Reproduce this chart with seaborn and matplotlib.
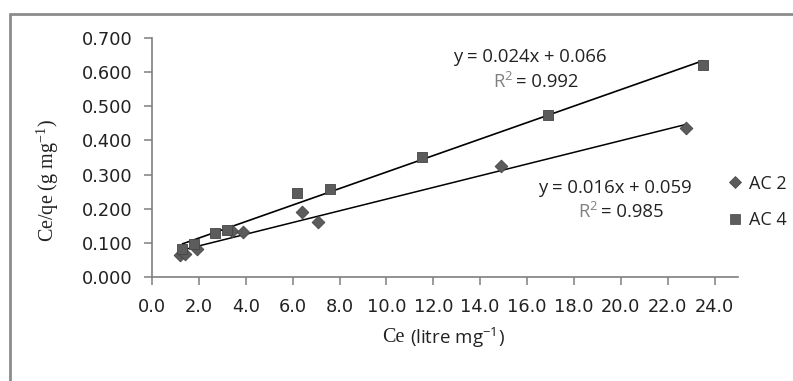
import matplotlib
matplotlib.use("Agg")
import matplotlib.pyplot as plt
import seaborn as sns
import pandas as pd
from matplotlib.lines import Line2D

# ---- data ----
ac2_x = [1.2, 1.4, 1.9, 3.4, 3.9, 6.4, 7.1, 14.9, 22.8]
ac2_y = [0.065, 0.068, 0.081, 0.135, 0.131, 0.189, 0.160, 0.325, 0.436]
ac4_x = [1.3, 1.8, 2.7, 3.2, 6.2, 7.6, 11.5, 16.9, 23.5]
ac4_y = [0.081, 0.096, 0.128, 0.138, 0.247, 0.259, 0.352, 0.475, 0.620]
series_names = ["AC 2", "AC 4"]
eq_texts = ["y = 0.016x + 0.059", "y = 0.024x + 0.066"]
r2_texts = ["= 0.985", "= 0.992"]
x_ticks = [0, 2, 4, 6, 8, 10, 12, 14, 16, 18, 20, 22, 24]
y_ticks = [0.0, 0.1, 0.2, 0.3, 0.4, 0.5, 0.6, 0.7]

sns.set_theme(style="white")
plt.rcParams['font.family'] = ['DejaVu Sans']

W, H = 793, 381
fig = plt.figure(figsize=(W / 100, H / 100), dpi=100)
ax = fig.add_axes([152 / W, 1 - 277 / H, (738 - 152) / W, (277 - 38) / H])

df2 = pd.DataFrame({"x": ac2_x, "y": ac2_y})
df4 = pd.DataFrame({"x": ac4_x, "y": ac4_y})

fill = "#5c5c5c"
edge = "#444444"
sns.regplot(data=df2, x="x", y="y", ax=ax, scatter=False, ci=None, truncate=True,
            line_kws=dict(color="black", lw=1.1))
sns.regplot(data=df4, x="x", y="y", ax=ax, scatter=False, ci=None, truncate=True,
            line_kws=dict(color="black", lw=1.2))
sns.scatterplot(data=df2, x="x", y="y", ax=ax, marker="D", s=42, color=fill,
                edgecolor=edge, linewidth=0.6, zorder=3)
sns.scatterplot(data=df4, x="x", y="y", ax=ax, marker="s", s=46, color=fill,
                edgecolor=edge, linewidth=0.6, zorder=3)

ax.set_xlim(0, 25)
ax.set_ylim(0, 0.7)
ax.set_xticks(x_ticks)
ax.set_xticklabels([f"{v:.1f}" for v in x_ticks])
ax.set_yticks(y_ticks)
ax.set_yticklabels([f"{v:.3f}" for v in y_ticks])
for s in ["top", "right"]:
    ax.spines[s].set_visible(False)
for s in ["left", "bottom"]:
    ax.spines[s].set_color("#7f7f7f")
    ax.spines[s].set_linewidth(1.2)
ax.tick_params(axis="both", direction="out", length=6, width=1.1, color="#7f7f7f",
               labelsize=12.8, labelcolor="#222222")
ax.tick_params(axis="x", pad=9, bottom=True)
ax.tick_params(axis="y", pad=8, left=True)
ax.set_xlabel("")
ax.set_ylabel("")

serif = ['Liberation Serif', 'DejaVu Serif']
sans = ['Open Sans', 'DejaVu Sans']

# axis labels
fig.text(48 / W, 1 - 181 / H, "Ce/qe (g mg$^{\\mathregular{-1}}$)", rotation=90,
         ha="center", va="center", fontsize=14.5, family=serif, color="#222222")
fig.text(405 / W, 1 - 338 / H, "Ce", ha="right", va="center", fontsize=14.5,
         family=serif, color="#222222")
fig.text(410 / W, 1 - 338 / H, "(litre mg$^{\\mathregular{-1}}$)", ha="left", va="center",
         fontsize=13.5, family=sans, color="#222222")

# equations
eq_pos = [(615, 188, 212), (530, 57, 82)]
for (cx, ey, ry), eq, r2 in zip(eq_pos, eq_texts, r2_texts):
    fig.text(cx / W, 1 - ey / H, eq, ha="center", va="center", fontsize=13.3,
             family=sans, color="#222222")
    fig.text((cx - 17) / W, 1 - ry / H, "R$^{\\mathregular{2}}$", ha="right", va="center",
             fontsize=13.3, family=sans, color="#808080")
    fig.text((cx - 14) / W, 1 - ry / H, r2, ha="left", va="center", fontsize=13.3,
             family=sans, color="#222222")

# legend
handles = [
    Line2D([], [], marker="D", ls="none", markersize=6, markerfacecolor=fill,
           markeredgecolor=edge, markeredgewidth=0.5),
    Line2D([], [], marker="s", ls="none", markersize=6.5, markerfacecolor=fill,
           markeredgecolor=edge, markeredgewidth=0.5),
]
leg = fig.legend(handles, series_names, loc="center left",
                 bbox_to_anchor=(728 / W, 1 - 202 / H), frameon=False, borderpad=0,
                 borderaxespad=0, handlelength=0.8, handletextpad=0.35, labelspacing=1.05,
                 prop=dict(family=sans, size=13))
for t in leg.get_texts():
    t.set_color("#222222")

# outer frame (top and left edges only)
fig.add_artist(Line2D([10 / W, 1.0], [1 - 14 / H, 1 - 14 / H], transform=fig.transFigure,
                      color="#8c8c8c", lw=2))
fig.add_artist(Line2D([10 / W, 10 / W], [1 - 14 / H, 0.0], transform=fig.transFigure,
                      color="#8c8c8c", lw=2))

fig.savefig("out.png", dpi=100)
